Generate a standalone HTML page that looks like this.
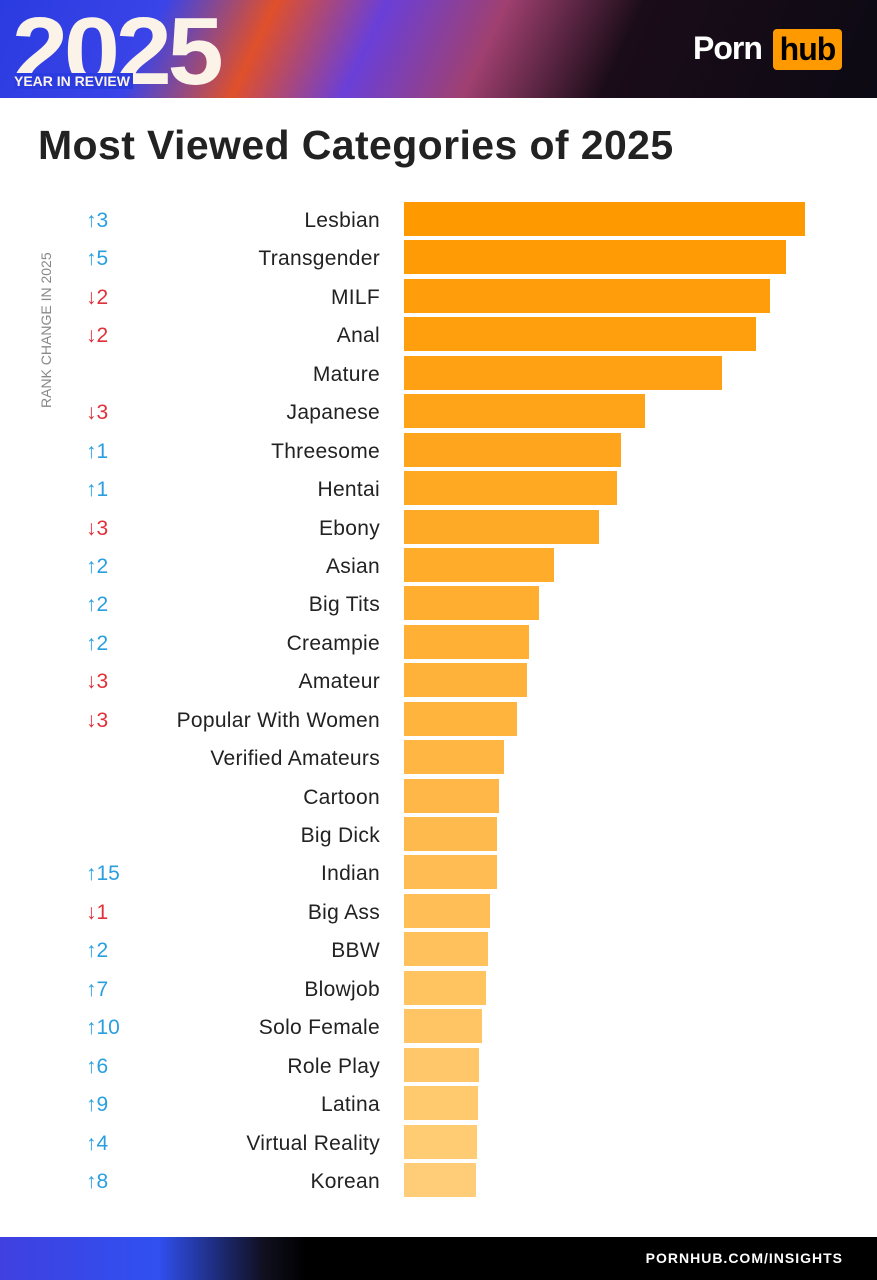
<!DOCTYPE html>
<html><head><meta charset="utf-8"><style>
body{margin:0;width:877px;height:1280px;background:#fff;font-family:"Liberation Sans",sans-serif;position:relative;overflow:hidden}
.hdr{position:absolute;left:0;top:0;width:877px;height:98px;background:linear-gradient(115deg,#2a3be0 0%,#3a44e8 18%,#e0502a 30%,#6a3fd8 42%,#a04070 55%,#1a0c18 70%,#0c0a14 100%)}
.ftr{position:absolute;left:0;top:1237px;width:877px;height:43px;background:linear-gradient(90deg,#4040e0 0%,#3050f0 18%,#101020 30%,#000 35%)}
h1{position:absolute;left:38px;top:122px;margin:0;font-size:41px;font-weight:bold;color:#222;letter-spacing:0.4px;white-space:nowrap}
.row{position:absolute;left:0;height:34px;width:877px}
.lab{position:absolute;right:497px;top:7px;font-size:21px;color:#222;white-space:nowrap;letter-spacing:0.3px}
.ch{position:absolute;left:86px;top:7px;font-size:21px}
.up{color:#2a9fe0}.dn{color:#e0303a}
.bar{position:absolute;left:404px;top:0;height:34px}
</style></head><body>
<div class="hdr"></div>
<div style="position:absolute;left:12px;top:4px;font-size:96px;font-weight:bold;color:#fbf2e8;letter-spacing:-4px;line-height:96px;transform:scaleX(1.05);transform-origin:0 0">2025</div>
<div style="position:absolute;left:14px;top:73px;font-size:14px;font-weight:bold;color:#fbf2e8;background:#2a3be0;padding-right:3px">YEAR IN REVIEW</div>
<div style="position:absolute;left:693px;top:30px;font-size:32px;font-weight:bold;color:#fff;letter-spacing:-1px">Porn</div>
<div style="position:absolute;left:773px;top:29px;width:69px;height:41px;background:#ff9900;border-radius:4px;font-size:32px;font-weight:bold;color:#000;text-align:center;line-height:40px;letter-spacing:-1px">hub</div>
<h1>Most Viewed Categories of 2025</h1>
<div style="position:absolute;left:38px;top:408px;transform:rotate(-90deg);transform-origin:0 0;font-size:14px;color:#888;white-space:nowrap">RANK CHANGE IN 2025</div>
<div id="c"></div>
<div class="ftr"></div>
<div style="position:absolute;right:34px;top:1250px;font-size:14px;font-weight:bold;color:#fff;letter-spacing:1px">PORNHUB.COM/INSIGHTS</div>
<script>
var d=[["Lesbian",805,"↑3"],["Transgender",786,"↑5"],["MILF",770,"↓2"],["Anal",756,"↓2"],["Mature",722,""],["Japanese",645,"↓3"],["Threesome",621,"↑1"],["Hentai",617,"↑1"],["Ebony",599,"↓3"],["Asian",554,"↑2"],["Big Tits",539,"↑2"],["Creampie",529,"↑2"],["Amateur",527,"↓3"],["Popular With Women",517,"↓3"],["Verified Amateurs",504,""],["Cartoon",499,""],["Big Dick",497,""],["Indian",497,"↑15"],["Big Ass",490,"↓1"],["BBW",488,"↑2"],["Blowjob",486,"↑7"],["Solo Female",482,"↑10"],["Role Play",479,"↑6"],["Latina",478,"↑9"],["Virtual Reality",477,"↑4"],["Korean",476,"↑8"]];
var h="";d.forEach(function(r,i){var t=i/25;var g=Math.round(153+t*(205-153)),b=Math.round(0+t*120);
h+='<div class="row" style="top:'+(202+i*38.44)+'px"><span class="ch '+(r[2][0]=="↑"?"up":"dn")+'">'+r[2]+'</span><span class="lab">'+r[0]+'</span><div class="bar" style="width:'+(r[1]-404)+'px;background:rgb(255,'+g+','+b+')"></div></div>';});
document.getElementById("c").innerHTML=h;
</script>
</body></html>
